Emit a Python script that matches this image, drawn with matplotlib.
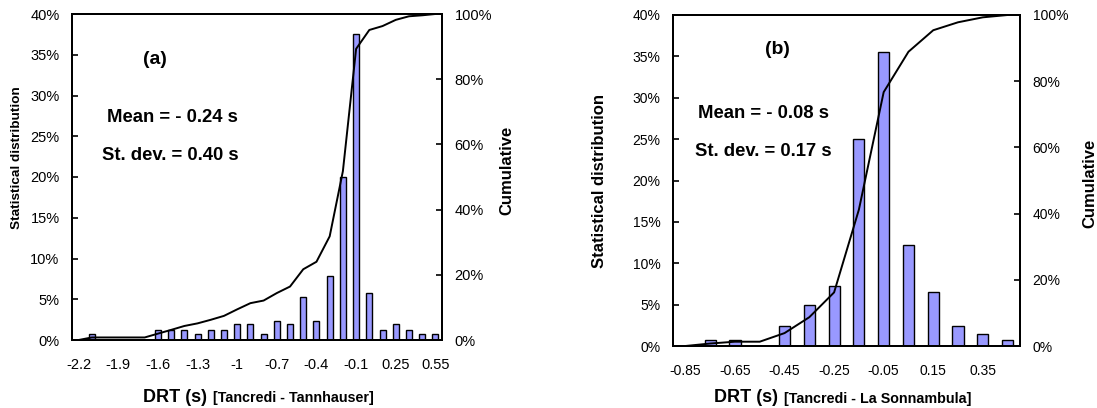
import matplotlib
matplotlib.use("Agg")
import matplotlib.pyplot as plt
from matplotlib.ticker import FuncFormatter

plt.rcParams['font.family'] = ['Liberation Sans', 'DejaVu Sans']

# ---------------- data: chart (a) ----------------
cats_a = ["-2.2", "-2.1", "-2", "-1.9", "-1.8", "-1.7", "-1.6", "-1.5", "-1.4", "-1.3",
          "-1.2", "-1.1", "-1", "-0.9", "-0.8", "-0.7", "-0.6", "-0.5", "-0.4", "-0.3",
          "-0.2", "-0.1", "0.05", "0.15", "0.25", "0.35", "0.45", "0.55"]
dist_a = [0.0, 0.78, 0.0, 0.0, 0.0, 0.0, 1.17, 1.17, 1.17, 0.78,
          1.17, 1.17, 1.95, 1.95, 0.78, 2.34, 1.95, 5.3, 2.34, 7.8,
          20.0, 37.5, 5.8, 1.17, 1.95, 1.17, 0.78, 0.78]
cum_a = [0.0, 0.78, 0.78, 0.78, 0.78, 0.78, 1.95, 3.1, 4.3, 5.1,
         6.2, 7.4, 9.4, 11.3, 12.1, 14.4, 16.4, 21.7, 24.0, 31.8,
         51.8, 89.3, 95.1, 96.3, 98.2, 99.3, 99.6, 100.0]
xtick_a = ["-2.2", "-1.9", "-1.6", "-1.3", "-1", "-0.7", "-0.4", "-0.1", "0.25", "0.55"]

# ---------------- data: chart (b) ----------------
cats_b = ["-0.85", "-0.75", "-0.65", "-0.55", "-0.45", "-0.35", "-0.25", "-0.15",
          "-0.05", "0.05", "0.15", "0.25", "0.35", "0.45"]
dist_b = [0.0, 0.75, 0.75, 0.0, 2.4, 4.9, 7.3, 25.0, 35.5, 12.2, 6.5, 2.4, 1.5, 0.75]
cum_b = [0.0, 0.75, 1.3, 1.3, 3.9, 8.7, 16.2, 41.2, 76.7, 88.9, 95.4, 97.8, 99.3, 100.0]
xtick_b = ["-0.85", "-0.65", "-0.45", "-0.25", "-0.05", "0.15", "0.35"]

W, H = 1097, 408
fig = plt.figure(figsize=(W / 100, H / 100), dpi=100)

BAR = '#9999FF'


def px(x, y):
    return x / W, 1 - y / H


def make(rect, cats, dist, cum, xt, tick_fs, left_step):
    ax = fig.add_axes(rect)
    x = list(range(len(cats)))
    ax.bar(x, dist, width=0.45, color=BAR, edgecolor='black', linewidth=1.0, zorder=2)
    ax.set_xlim(-0.5, len(cats) - 0.5)
    ax.set_ylim(0, 40)
    ax.set_yticks(list(range(0, 41, left_step)))
    ax.yaxis.set_major_formatter(FuncFormatter(lambda v, p: f"{v:.0f}%"))
    pos = [cats.index(t) for t in xt]
    ax.set_xticks(pos)
    ax.set_xticklabels(xt)
    ax.tick_params(axis='x', length=0, pad=13, labelsize=tick_fs)
    ax.tick_params(axis='y', direction='in', length=4, width=1.2, pad=9, labelsize=tick_fs)
    for s in ax.spines.values():
        s.set_linewidth(1.4)
    ax2 = ax.twinx()
    ax2.plot(x, cum, color='black', linewidth=1.4, zorder=3)
    ax2.set_ylim(0, 100)
    ax2.set_yticks(list(range(0, 101, 20)))
    ax2.yaxis.set_major_formatter(FuncFormatter(lambda v, p: f"{v:.0f}%"))
    ax2.tick_params(axis='y', direction='in', length=4, width=1.2, pad=9, labelsize=tick_fs)
    for s in ax2.spines.values():
        s.set_linewidth(1.4)
    return ax, ax2


# chart (a)
make([72 / W, 1 - 340 / H, 370 / W, 326 / H], cats_a, dist_a, cum_a, xtick_a, 10.5, 5)
# chart (b)
make([673 / W, 1 - 346 / H, 347 / W, 331 / H], cats_b, dist_b, cum_b, xtick_b, 10, 5)

ANN = 13.3
# annotations (a)
fig.text(*px(155, 59), "(a)", ha='center', va='center', fontsize=14, fontweight='bold')
fig.text(*px(172, 117), "Mean = - 0.24 s", ha='center', va='center', fontsize=ANN, fontweight='bold')
fig.text(*px(170.5, 155), "St. dev. = 0.40 s", ha='center', va='center', fontsize=ANN, fontweight='bold')
# annotations (b)
fig.text(*px(777, 50), "(b)", ha='center', va='center', fontsize=14, fontweight='bold')
fig.text(*px(764, 113), "Mean = - 0.08 s", ha='center', va='center', fontsize=ANN, fontweight='bold')
fig.text(*px(763, 152), "St. dev. = 0.17 s", ha='center', va='center', fontsize=ANN, fontweight='bold')

# y labels
fig.text(*px(17, 158), "Statistical distribution", rotation=90, ha='center', va='center',
         fontsize=9.7, fontweight='bold')
fig.text(*px(507, 170), "Cumulative", rotation=90, ha='center', va='center',
         fontsize=12, fontweight='bold')
fig.text(*px(600, 181), "Statistical distribution", rotation=90, ha='center', va='center',
         fontsize=12, fontweight='bold')
fig.text(*px(1090, 183), "Cumulative", rotation=90, ha='center', va='center',
         fontsize=12, fontweight='bold')

# x labels (two-part)
fig.text(*px(212, 397), "DRT (s) ", ha='right', va='center', fontsize=13, fontweight='bold')
fig.text(*px(213, 398), "[Tancredi - Tannhauser]", ha='left', va='center', fontsize=10.3, fontweight='bold')
fig.text(*px(783, 398), "DRT (s) ", ha='right', va='center', fontsize=13, fontweight='bold')
fig.text(*px(784, 399), "[Tancredi - La Sonnambula]", ha='left', va='center', fontsize=10.3, fontweight='bold')

fig.savefig("out.png", dpi=100)
